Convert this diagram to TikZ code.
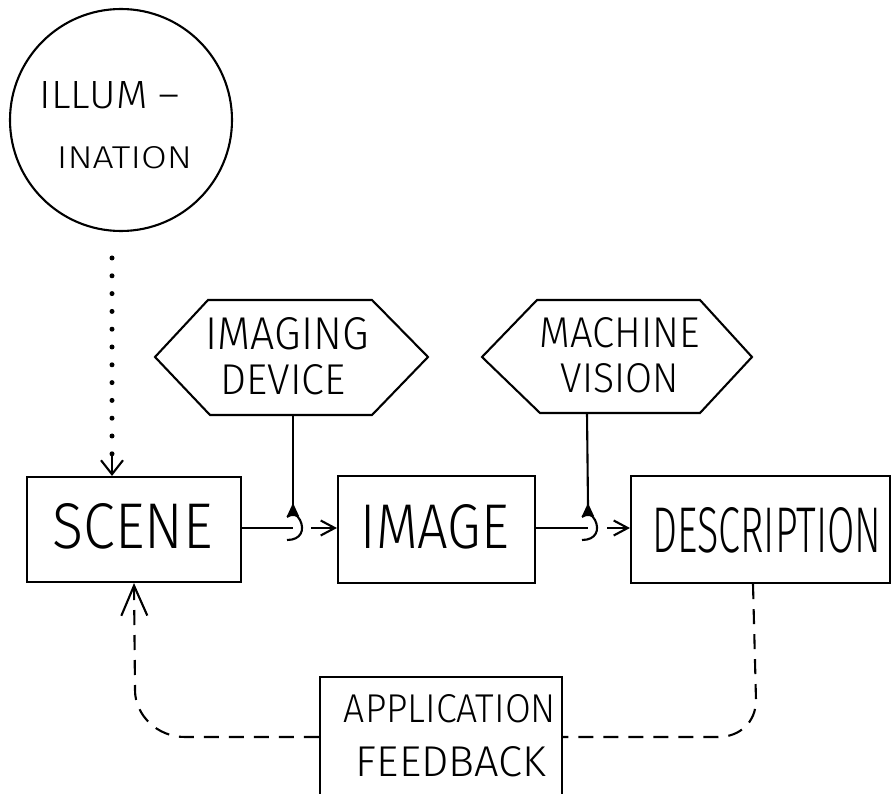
\documentclass[tikz,border=0pt]{standalone}
\usepackage{fontspec}
\usepackage{graphicx}
\IfFontExistsTF{Fira Sans Light}{\newfontfamily\hand{Fira Sans Light}}{\newfontfamily\hand{DejaVu Sans}}
\usetikzlibrary{arrows.meta}
\newcommand{\hw}[3]{\resizebox{#1pt}{#2pt}{\hand #3}}
\begin{document}
\begin{tikzpicture}[x=1pt,y=-1pt,line width=2.1pt,
  box/.style={draw,rectangle,inner sep=0pt},
  lbl/.style={inner sep=0pt},
  fb/.style={dash pattern=on 15pt off 10pt},
  dotln/.style={line width=5pt,line cap=round,dash pattern=on 0pt off 17.8pt},
  smallbarb/.style={-{Straight Barb[length=14pt,width=15pt]}},
  topbarb/.style={-{Straight Barb[length=14pt,width=22pt]}},
  bigbarb/.style={-{Straight Barb[length=30pt,width=26pt]}},
  valve/.pic={
    \fill (0,-25) -- (-6,-12) -- (6,-12) -- cycle;
    \draw (-6,-11) .. controls (0,-15) and (4,-14) .. (7,-8)
          .. controls (12,2) and (8,12) .. (-6,12);
  }]
\useasboundingbox (0,0) rectangle (895,794);
\fill[white] (0,0) rectangle (895,794);
\clip (0,0) rectangle (895,794);

% illumination
\node[draw,circle,minimum size=222pt,inner sep=0pt] (illum) at (121,120) {};
\node[lbl] (illumA) at (110,95) {\hw{140}{27}{ILLUM –}};
\node[lbl] (illumB) at (124.5,157.5) {\hw{135}{22}{INATION}};

% hexagons
\draw (155,357) -- (208,300) -- (372,300) -- (428,357) -- (372,415) -- (210,415) -- cycle;
\node[lbl] (imgA) at (287,334) {\hw{163}{32}{IMAGING}};
\node[lbl] (imgB) at (283,380) {\hw{125}{30}{DEVICE}};
\coordinate (idevb) at (293,415);

\draw (482,357) -- (537,300) -- (700,300) -- (752,357) -- (700,413) -- (540,413) -- cycle;
\node[lbl] (mvA) at (620,333) {\hw{160}{30}{MACHINE}};
\node[lbl] (mvB) at (620,378) {\hw{118}{29}{VISION}};
\coordinate (mvb) at (587,413);

% boxes
\node[box,minimum width=214pt,minimum height=105pt] (scene) at (134,529.5) {};
\node[lbl] (sceneT) at (133,526) {\hw{160}{45}{SCENE}};
\node[box,minimum width=197pt,minimum height=107pt] (image) at (436.5,529.5) {};
\node[lbl] (imageT) at (435,527) {\hw{148}{44}{IMAGE}};
\node[box,minimum width=259pt,minimum height=107pt] (desc) at (760.5,529.5) {};
\node[lbl] (descT) at (767,530) {\hw{229}{45}{DESCRIPTION}};

\node[box,minimum width=242pt,minimum height=143pt] (app) at (441,748.5) {};
\node[lbl] (appA) at (450,709) {\hw{212}{28}{APPLICATION}};
\node[lbl] (appB) at (451,762) {\hw{190}{30}{FEEDBACK}};

% illumination dotted link
\coordinate (dtop) at (112,258);
\coordinate (dbot) at (112,454);
\draw[dotln] (dtop) -- (dbot);
\draw[topbarb] (dbot) -- (dbot |- scene.north);

% hooks
\coordinate (hk1) at (293,528);
\coordinate (hk2) at (588,528);
\draw (idevb) -- (hk1 |- 0,505);
\draw (mvb) -- (hk2 |- 0,505);
\pic at (hk1) {valve};
\pic at (hk2) {valve};
\draw (scene.east |- hk1) -- (hk1);
\draw (image.east |- hk2) -- (hk2);
\coordinate (a1) at (311,528);
\coordinate (a2) at (607,528);
\draw[smallbarb] (a1) -- (image.west |- a1);
\draw[smallbarb] (a2) -- (desc.west |- a2);

% feedback
\coordinate (fy) at (0,737);
\coordinate (lx) at (134,0);
\coordinate (rx) at (753,0);
\draw[fb,bigbarb] (app.west |- fy) -- (185,737) .. controls (157,737) and (135,715) .. (135,690) -- (lx |- scene.south);
\draw[fb] (rx |- desc.south) -- (756,700) .. controls (756,722) and (740,737) .. (718,737) -- (app.east |- fy);
\end{tikzpicture}
\end{document}
